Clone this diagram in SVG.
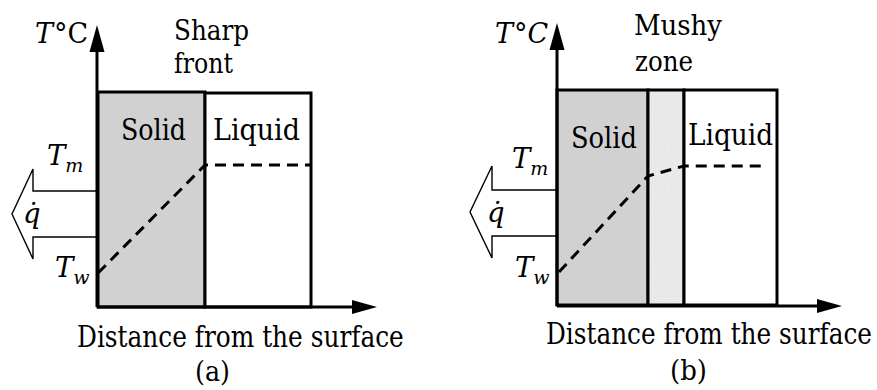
<svg xmlns="http://www.w3.org/2000/svg" width="877" height="390" viewBox="0 0 877 390">
<style>
text{font-family:'DejaVu Serif',serif;fill:#000}
.i{font-style:italic}
.box{stroke:#000;stroke-width:3}
.axis{stroke:#000;stroke-width:3;fill:none}
.dash{stroke:#000;stroke-width:3;fill:none;stroke-dasharray:11 7}
.heat{stroke:#000;stroke-width:1.4;fill:#fff}
.head{fill:#000}
</style>
<defs>
<filter id="speckle" x="0" y="0" width="100%" height="100%">
<feTurbulence type="fractalNoise" baseFrequency="0.3" numOctaves="2" seed="3" result="n"/>
<feColorMatrix in="n" type="matrix" values="0 0 0 0 0.8  0 0 0 0 0.8  0 0 0 0 0.8  0 0 0 -1.6 1.2" result="g"/>
<feComposite in="g" in2="SourceGraphic" operator="in"/>
</filter>
</defs>

<g id="connectors">
<path class="heat" d="M97,191 H33 V169 L12,214 L33,259 V237 H97"/>
<path class="heat" d="M557,190 H492 V166 L470,212 L492,258 V236 H557"/>
</g>

<!-- Panel (a) -->
<g id="a-solid">
<rect class="box" x="98" y="92" width="107" height="215" fill="#d1d1d1"/>
<text x="121" y="140" font-size="29" textLength="65" lengthAdjust="spacingAndGlyphs">Solid</text>
</g>
<g id="a-liquid">
<rect class="box" x="205" y="93" width="106" height="214" fill="#fff"/>
<text x="213" y="140" font-size="29" textLength="87" lengthAdjust="spacingAndGlyphs">Liquid</text>
</g>
<g id="a-labels">
<text x="35" y="43" font-size="27"><tspan class="i">T</tspan><tspan dx="1">°C</tspan></text>
<text x="174" y="40" font-size="27.5" textLength="75" lengthAdjust="spacingAndGlyphs">Sharp</text>
<text x="174" y="73" font-size="27.5" textLength="59" lengthAdjust="spacingAndGlyphs">front</text>
<text class="i" x="47" y="165" font-size="27.5">T<tspan font-size="19" dy="7">m</tspan></text>
<text class="i" x="23" y="223" font-size="27.5">q̇</text>
<text class="i" x="55" y="277" font-size="27.5">T<tspan font-size="19" dy="7">w</tspan></text>
<text transform="translate(77,347) scale(0.86,1)" x="0" y="0" font-size="29" textLength="380" lengthAdjust="spacingAndGlyphs">Distance from the surface</text>
<text x="195" y="381" font-size="28" textLength="35" lengthAdjust="spacingAndGlyphs">(a)</text>
</g>

<!-- Panel (b) -->
<g id="b-solid">
<rect class="box" x="557" y="90" width="91" height="215" fill="#d1d1d1"/>
<text x="571" y="148" font-size="29" textLength="66" lengthAdjust="spacingAndGlyphs">Solid</text>
</g>
<g id="b-mushy">
<rect x="648" y="90" width="36" height="215" fill="#ebebeb"/>
<rect x="648" y="90" width="36" height="215" filter="url(#speckle)" fill="#000"/>
<rect x="648" y="90" width="36" height="215" fill="none" class="box"/>
</g>
<g id="b-liquid">
<rect class="box" x="684" y="90" width="93" height="215" fill="#fff"/>
<text x="688" y="145" font-size="29" textLength="85" lengthAdjust="spacingAndGlyphs">Liquid</text>
</g>
<g id="b-labels">
<text class="i" x="495" y="43" font-size="27">T<tspan font-style="normal" dx="1">°</tspan>C</text>
<text x="634" y="35" font-size="27.5" textLength="88" lengthAdjust="spacingAndGlyphs">Mushy</text>
<text x="635" y="71" font-size="27.5" textLength="58" lengthAdjust="spacingAndGlyphs">zone</text>
<text class="i" x="512" y="168" font-size="27.5">T<tspan font-size="19" dy="7">m</tspan></text>
<text class="i" x="487" y="222" font-size="27.5">q̇</text>
<text class="i" x="515" y="277" font-size="27.5">T<tspan font-size="19" dy="7">w</tspan></text>
<text transform="translate(546,344) scale(0.86,1)" x="0" y="0" font-size="29" textLength="379" lengthAdjust="spacingAndGlyphs">Distance from the surface</text>
<text x="670" y="380" font-size="28" textLength="37" lengthAdjust="spacingAndGlyphs">(b)</text>
</g>

<g id="axes">
<path class="axis" d="M97,307 V50"/>
<polygon class="head" points="97,25 89.5,52 104.5,52"/>
<path class="axis" d="M97,307 H354"/>
<polygon class="head" points="377,307 352,300 352,314"/>
<path class="dash" d="M98,273 L205,165 H311"/>
<path class="axis" d="M557,306 V48"/>
<polygon class="head" points="557,23 549.5,50 564.5,50"/>
<path class="axis" d="M557,306 H819"/>
<polygon class="head" points="842,306 817,299 817,313"/>
<path class="dash" d="M559,272 L648,176 L684,166 H767"/>
</g>
</svg>
